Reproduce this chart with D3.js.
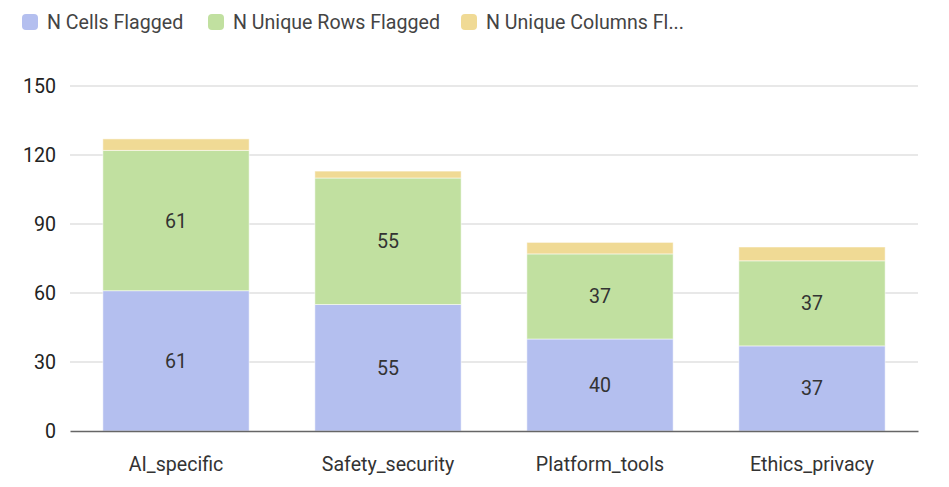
<!DOCTYPE html>
<html>
<head>
<meta charset="utf-8">
<script src="https://cdn.jsdelivr.net/npm/d3@7"></script>
<style>
  body { margin: 0; background: #fff; }
  text { font-family: Roboto, "Noto Sans", sans-serif; }
</style>
</head>
<body>
<div id="chart-area"></div>
<script>
const categories = ['AI_specific', 'Safety_security', 'Platform_tools', 'Ethics_privacy'];
const seriesNames = ['N Cells Flagged', 'N Unique Rows Flagged', 'N Unique Columns Fl...'];
const cellsFlagged = [61, 55, 40, 37];
const rowsFlagged = [61, 55, 37, 37];
const columnsFlagged = [5, 3, 5, 6];
const yTicks = [0, 30, 60, 90, 120, 150];

const chartSize = { width: 949, height: 487 };
const margin = { left: 70, right: 31, top: 86, bottom: 56 };
const width = chartSize.width - (margin.left + margin.right);
const height = chartSize.height - (margin.top + margin.bottom);
const colors = ['#b4bfef', '#c1e0a0', '#f0da95'];
const fontSize = 19.6;

const rows = categories.map((name, i) => ({
  name, s0: cellsFlagged[i], s1: rowsFlagged[i], s2: columnsFlagged[i]
}));

const svg = d3.select('#chart-area').append('svg')
  .attr('width', chartSize.width)
  .attr('height', chartSize.height);

// legend
const legendX = [22, 208, 461];
const legend = svg.append('g').attr('class', 'legend');
seriesNames.forEach((name, i) => {
  legend.append('rect')
    .attr('x', legendX[i]).attr('y', 14)
    .attr('width', 16).attr('height', 16)
    .attr('rx', 4)
    .attr('fill', colors[i]);
  legend.append('text')
    .attr('x', legendX[i] + 25).attr('y', 29)
    .attr('font-size', fontSize)
    .attr('fill', '#444')
    .text(name);
});

const g = svg.append('g')
  .attr('transform', `translate(${margin.left},${margin.top})`);

const y = d3.scaleLinear().domain([0, 150]).range([height, 0]);
const x = d3.scaleBand().domain(categories).range([0, width]).paddingInner(0.31).paddingOuter(0.155);

// gridlines
g.append('g').attr('class', 'grid')
  .selectAll('line').data(yTicks.slice(1)).join('line')
  .attr('x1', 0).attr('x2', width)
  .attr('y1', d => y(d)).attr('y2', d => y(d))
  .attr('stroke', '#e0e0e0').attr('stroke-width', 1.5);

const yAxis = d3.axisLeft(y).tickValues(yTicks).tickSize(0).tickPadding(14);
g.append('g').attr('class', 'y axis').call(yAxis)
  .call(a => a.select('.domain').remove())
  .selectAll('text').attr('font-size', fontSize).attr('fill', '#222');

const stack = d3.stack().keys(['s0', 's1', 's2']);
const layers = stack(rows);

g.selectAll('g.layer').data(layers).join('g')
  .attr('class', 'layer')
  .attr('fill', (d, i) => colors[i])
  .selectAll('rect').data(d => d).join('rect')
  .attr('x', d => x(d.data.name))
  .attr('width', x.bandwidth())
  .attr('y', d => y(d[1]))
  .attr('height', d => y(d[0]) - y(d[1]))
  .attr('stroke', '#ffffff')
  .attr('stroke-opacity', 0.5)
  .attr('stroke-width', 1);

// value labels for the two larger series
layers.slice(0, 2).forEach(layer => {
  g.append('g').selectAll('text').data(layer).join('text')
    .attr('x', d => x(d.data.name) + x.bandwidth() / 2)
    .attr('y', d => (y(d[0]) + y(d[1])) / 2 + 7)
    .attr('text-anchor', 'middle')
    .attr('font-size', fontSize)
    .attr('fill', '#333')
    .text(d => d[1] - d[0]);
});

const xAxis = d3.axisBottom(x).tickSize(0).tickPadding(26);
g.append('g').attr('class', 'x axis')
  .attr('transform', `translate(0,${height})`)
  .call(xAxis)
  .call(a => a.select('.domain').attr('stroke', '#666').attr('stroke-width', 1.5))
  .selectAll('text').attr('font-size', fontSize).attr('fill', '#333');
</script>
</body>
</html>
